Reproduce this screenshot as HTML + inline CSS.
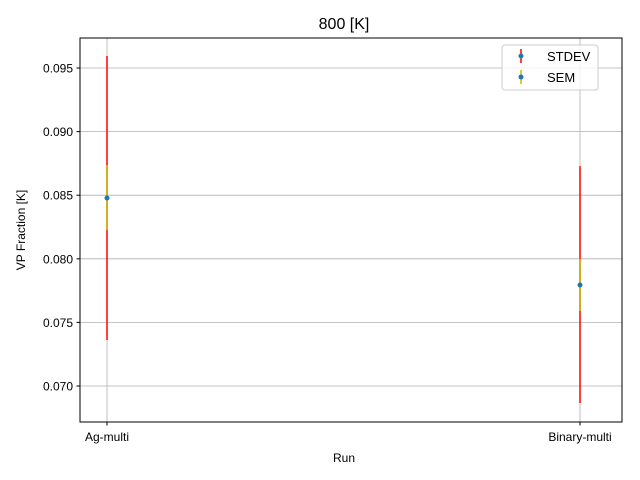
<!DOCTYPE html>
<html><head><meta charset="utf-8"><style>
body{margin:0;background:#fff;}
svg{display:block;font-family:"Liberation Sans","DejaVu Sans",sans-serif;}
</style></head><body>
<svg id="chart" width="640" height="480" xmlns="http://www.w3.org/2000/svg">
<rect width="640" height="480" fill="#fff"/>
<text x="344" y="29" font-size="16" text-anchor="middle">800 [K]</text>
<g id="grid"></g>
<g id="marks"></g>
<rect x="80" y="38" width="542" height="384" fill="none" stroke="#000" stroke-width="1"/>
<g id="ticks"></g>
<text x="344" y="462" font-size="12" text-anchor="middle">Run</text>
<text transform="translate(25,230) rotate(-90)" font-size="12" text-anchor="middle">VP Fraction [K]</text>
<g>
<rect x="502" y="45" width="96" height="45" rx="3" fill="#fff" fill-opacity="0.8" stroke="#ccc"/>
<g>
<line x1="521" y1="49" x2="521" y2="63" stroke="red" stroke-width="1.5"/>
<circle cx="521" cy="56" r="2.5" fill="#1f77b4"/>
<text x="547" y="61" font-size="13">STDEV</text></g>
<g>
<line x1="521" y1="70" x2="521" y2="84" stroke="#bfbf00" stroke-width="1.5"/>
<circle cx="521" cy="77" r="2.5" fill="#1f77b4"/>
<text x="547" y="82" font-size="13">SEM</text></g>
</g>
</svg>
<script>
const categories=["Ag-multi","Binary-multi"];
const means=[0.08478,0.07794];
const stdevLow=[0.07362,0.06866];
const stdevHigh=[0.09594,0.08729];
const semLow=[0.08226,0.07590];
const semHigh=[0.08737,0.08000];
const yTicks=[0.070,0.075,0.080,0.085,0.090,0.095];
const ns="http://www.w3.org/2000/svg";
const X0=80,X1=622,Y0=38,Y1=422,xmin=-0.0571,xmax=1.0888,ymin=0.06717,ymax=0.09736;
const xs=i=>X0+(i-xmin)/(xmax-xmin)*(X1-X0);
const ys=v=>Y1-(v-ymin)/(ymax-ymin)*(Y1-Y0);
function mk(tag,attrs,parent){const e=document.createElementNS(ns,tag);for(const k in attrs)e.setAttribute(k,attrs[k]);parent.appendChild(e);return e;}
const grid=document.getElementById('grid'),marks=document.getElementById('marks'),ticks=document.getElementById('ticks');
yTicks.forEach(t=>{const y=ys(t);
const g=mk('line',{x1:X0,x2:X1,y1:y,y2:y,stroke:'#b0b0b0','stroke-width':0.8},grid);


mk('line',{x1:X0-3.5,x2:X0,y1:y,y2:y,stroke:'#000'},ticks);
const tx=mk('text',{x:X0-7,y:y+4.5,'font-size':12,'text-anchor':'end'},ticks);tx.textContent=t.toFixed(3);


});
categories.forEach((c,i)=>{const x=xs(i);
const g=mk('line',{x1:x,x2:x,y1:Y0,y2:Y1,stroke:'#b0b0b0','stroke-width':0.8},grid);


mk('line',{x1:x,x2:x,y1:Y1,y2:Y1+3.5,stroke:'#000'},ticks);
const tx=mk('text',{x:x,y:Y1+19,'font-size':12,'text-anchor':'middle'},ticks);tx.textContent=c;


const s=mk('line',{x1:x,x2:x,y1:ys(stdevHigh[i]),y2:ys(stdevLow[i]),stroke:'red','stroke-width':1.5},marks);


const e=mk('line',{x1:x,x2:x,y1:ys(semHigh[i]),y2:ys(semLow[i]),stroke:'#bfbf00','stroke-width':1.5},marks);


const p=mk('circle',{cx:x,cy:ys(means[i]),r:2.5,fill:'#1f77b4'},marks);


});
</script>
</body></html>
